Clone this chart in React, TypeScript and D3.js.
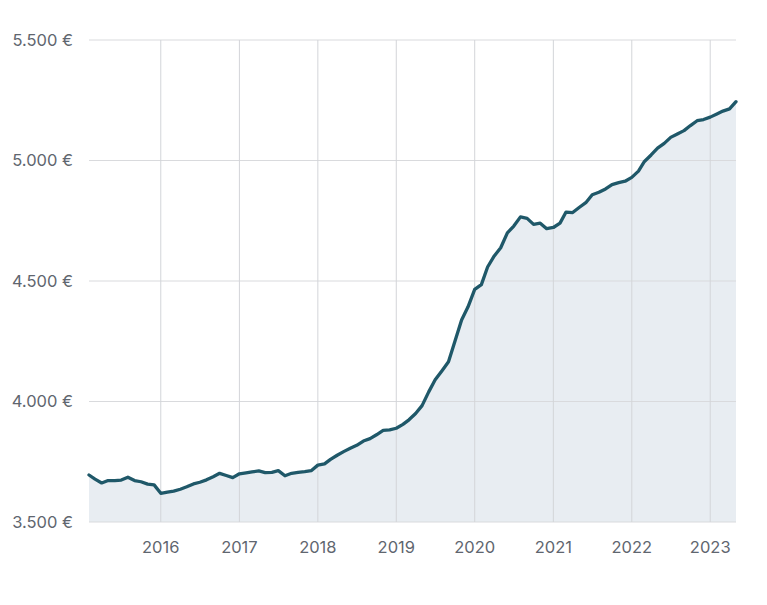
import * as d3 from 'd3';
import React from 'react';

// Monthly average price, Feb 2015 – May 2023
const startMonth = new Date(2015, 1, 1);
const prices = [
  3695, 3678, 3662, 3672, 3672, 3674, 3686, 3672, 3667, 3657, 3654,
  3619, 3624, 3628, 3636, 3646, 3658, 3665, 3675, 3688, 3702, 3693, 3684,
  3700, 3704, 3708, 3712, 3705, 3706, 3713, 3692, 3702, 3706, 3709, 3713,
  3736, 3741, 3760, 3777, 3792, 3806, 3818, 3836, 3846, 3862, 3880, 3882,
  3889, 3905, 3924, 3950, 3983, 4040, 4090, 4127, 4165, 4250, 4338, 4393,
  4465, 4485, 4558, 4604, 4638, 4700, 4728, 4766, 4760, 4735, 4740, 4717,
  4722, 4740, 4786, 4784, 4805, 4825, 4858, 4868, 4882, 4900, 4908, 4914,
  4930, 4956, 4996, 5023, 5051, 5071, 5096, 5110, 5124, 5145, 5165, 5170,
  5180, 5193, 5205, 5214, 5244,
];
const yTicks = [3500, 4000, 4500, 5000, 5500];
const yearTicks = [2016, 2017, 2018, 2019, 2020, 2021, 2022, 2023];

const width = 767;
const height = 605;
const margin = { top: 40, right: 31, bottom: 83, left: 89 };

const fmt = (v: number) =>
  d3.format(',')(v).replace(/,/g, '.') + ' €';

export default function App() {
  const data = prices.map((value, i) => ({
    date: d3.timeMonth.offset(startMonth, i),
    value,
  }));

  const x = d3
    .scaleTime()
    .domain(d3.extent(data, d => d.date) as [Date, Date])
    .range([margin.left, width - margin.right]);
  const y = d3
    .scaleLinear()
    .domain([3500, 5500])
    .range([height - margin.bottom, margin.top]);

  const area = d3
    .area<{ date: Date; value: number }>()
    .x(d => x(d.date))
    .y0(y(3500))
    .y1(d => y(d.value));
  const line = d3
    .line<{ date: Date; value: number }>()
    .x(d => x(d.date))
    .y(d => y(d.value));

  const font = 'Inter, "Noto Sans", sans-serif';

  return (
    <svg
      width={width}
      height={height}
      style={{ position: 'absolute', left: 0, top: 0, background: '#fff' }}
    >
      <path d={area(data) ?? ''} fill="#e8edf2" />

      {/* grid */}
      {yTicks.map(t => (
        <line
          key={t}
          x1={margin.left}
          x2={width - margin.right}
          y1={y(t)}
          y2={y(t)}
          stroke="#d9dadd"
          strokeWidth={1}
        />
      ))}
      {yearTicks.map(yr => {
        const xp = x(new Date(yr, 0, 1));
        return (
          <line
            key={yr}
            x1={xp}
            x2={xp}
            y1={y(5500)}
            y2={y(3500)}
            stroke="#d3d5d9"
            strokeWidth={1}
          />
        );
      })}

      <path
        d={line(data) ?? ''}
        fill="none"
        stroke="#1f5869"
        strokeWidth={3.3}
        strokeLinejoin="round"
        strokeLinecap="round"
      />

      {/* axis labels */}
      {yTicks.map(t => (
        <text
          key={t}
          x={73}
          y={y(t)}
          dy="0.35em"
          textAnchor="end"
          fontFamily={font}
          fontSize={16.5}
          fill="#5f666f"
        >
          {fmt(t)}
        </text>
      ))}
      {yearTicks.map(yr => (
        <text
          key={yr}
          x={x(new Date(yr, 0, 1))}
          y={553}
          textAnchor="middle"
          fontFamily={font}
          fontSize={16.5}
          fill="#5f666f"
        >
          {yr}
        </text>
      ))}
    </svg>
  );
}
